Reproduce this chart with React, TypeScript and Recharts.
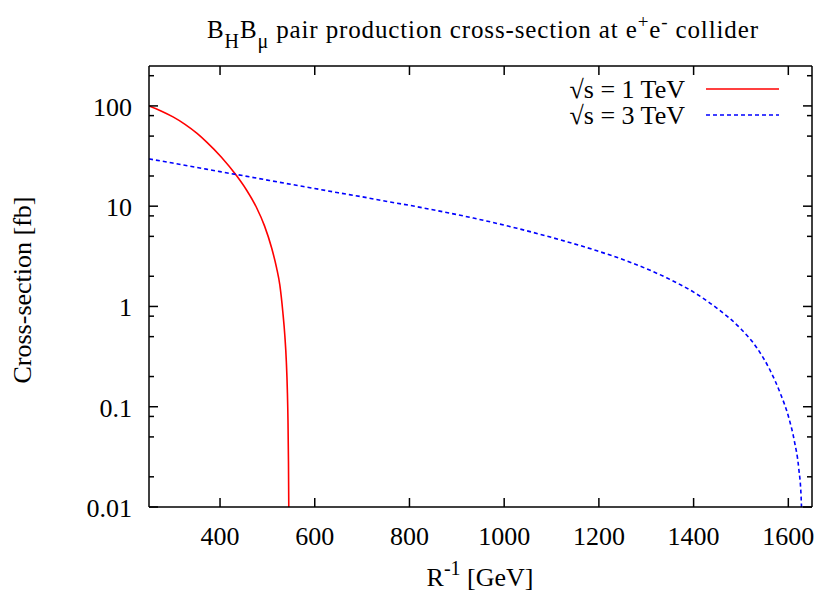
import React from 'react';
import { LineChart, Line, XAxis, YAxis, Legend } from 'recharts';

// sqrt(s) = 1 TeV curve: R^-1 [GeV] vs cross-section [fb]
const r1TeV = [250, 275.4, 300.7, 326.1, 351.5, 371.3, 403, 434.7, 455.9, 477, 493.9, 508.7, 519.3, 526.3, 532.6, 536.9, 540, 542.1, 543.5, 544.5, 545.3, 545.8];
const sigma1TeV = [100, 89.1, 77.7, 65.5, 53.2, 43.8, 30.8, 20.2, 14.5, 9.7, 6.36, 3.87, 2.44, 1.63, 0.88, 0.507, 0.282, 0.148, 0.072, 0.0287, 0.0081, 0.003];

// sqrt(s) = 3 TeV curve
const r3TeV = [250, 300, 350, 400, 450, 500, 550, 600, 650, 700, 750, 800, 843, 935, 1027, 1118, 1196, 1273, 1344, 1400, 1449, 1499, 1534, 1562, 1583, 1601, 1613, 1622, 1627, 1628.8];
const sigma3TeV = [29.6, 26.9, 24.4, 22.1, 20.1, 18.2, 16.5, 15.0, 13.6, 12.4, 11.2, 10.2, 9.33, 7.61, 6.02, 4.62, 3.59, 2.68, 1.92, 1.39, 0.962, 0.603, 0.384, 0.2285, 0.1363, 0.0777, 0.0449, 0.0243, 0.0126, 0.0074];

const xTicks = [400, 600, 800, 1000, 1200, 1400, 1600];
const yMajor = [0.01, 0.1, 1, 10, 100];
const yTicks = [0.01, 0.02, 0.05, 0.08, 0.1, 0.2, 0.5, 0.8, 1, 2, 5, 8, 10, 20, 50, 80, 100, 200];

const data1 = r1TeV.map((x, i) => ({ x, y: sigma1TeV[i] }));
const data3 = r3TeV.map((x, i) => ({ x, y: sigma3TeV[i] }));

const FONT = "'Liberation Serif', 'DejaVu Serif', serif";
const AXIS = { stroke: '#000', strokeWidth: 1.5 };

const LeftTick = (props: any) => {
  const { x, y, payload } = props;
  const major = yMajor.includes(payload.value);
  return (
    <g>
      <line x1={x} x2={x + (major ? 9 : 5)} y1={y} y2={y} stroke="#000" strokeWidth={1.5} />
      {major && (
        <text x={x - 17} y={y + 10} textAnchor="end" fontSize={26} fontFamily={FONT} fill="#000">
          {String(payload.value)}
        </text>
      )}
    </g>
  );
};

const RightTick = (props: any) => {
  const { x, y, payload } = props;
  const major = yMajor.includes(payload.value);
  return <line x1={x} x2={x - (major ? 9 : 5)} y1={y} y2={y} stroke="#000" strokeWidth={1.5} />;
};

const BottomTick = (props: any) => {
  const { x, y, payload } = props;
  return (
    <g>
      <line x1={x} x2={x} y1={y} y2={y - 9} stroke="#000" strokeWidth={1.5} />
      <text x={x} y={y + 37.5} textAnchor="middle" fontSize={26} fontFamily={FONT} fill="#000">
        {payload.value}
      </text>
    </g>
  );
};

const TopTick = (props: any) => {
  const { x, y } = props;
  return <line x1={x} x2={x} y1={y} y2={y + 9} stroke="#000" strokeWidth={1.5} />;
};

const legendRows = [
  { label: '√s = 1 TeV', color: '#ff0000', dash: undefined as string | undefined, y: 89 },
  { label: '√s = 3 TeV', color: '#0000ff', dash: '4 3', y: 115 },
];

const renderLegend = () => (
  <svg width={819} height={130} style={{ display: 'block' }}>
    {legendRows.map((r) => (
      <g key={r.label}>
        <text x={685} y={r.y + 9} textAnchor="end" fontSize={26} fontFamily={FONT} fill="#000">
          {r.label}
        </text>
        <line x1={706} x2={779} y1={r.y} y2={r.y} stroke={r.color} strokeWidth={1.5} strokeDasharray={r.dash} />
      </g>
    ))}
  </svg>
);

export default function App() {
  return (
    <div style={{ position: 'absolute', left: 0, top: 0, width: 819, height: 590, background: '#fff' }}>
      <LineChart width={819} height={590} margin={{ top: 60, right: 0, bottom: 43, left: 89 }}>
        <XAxis
          dataKey="x"
          type="number"
          domain={[250, 1650]}
          ticks={xTicks}
          allowDataOverflow
          interval={0}
          height={40}
          tickSize={0}
          tickMargin={0}
          axisLine={AXIS}
          tickLine={false}
          tick={(p: any) => <BottomTick {...p} />}
        />
        <XAxis
          xAxisId="top"
          orientation="top"
          dataKey="x"
          type="number"
          domain={[250, 1650]}
          ticks={xTicks}
          allowDataOverflow
          interval={0}
          height={6}
          tickSize={0}
          tickMargin={0}
          axisLine={AXIS}
          tickLine={false}
          tick={(p: any) => <TopTick {...p} />}
        />
        <YAxis
          dataKey="y"
          scale="log"
          domain={[0.01, 250]}
          ticks={yTicks}
          allowDataOverflow
          interval={0}
          width={60}
          tickSize={0}
          tickMargin={0}
          axisLine={AXIS}
          tickLine={false}
          tick={(p: any) => <LeftTick {...p} />}
        />
        <YAxis
          yAxisId="right"
          orientation="right"
          scale="log"
          domain={[0.01, 250]}
          ticks={yTicks}
          allowDataOverflow
          interval={0}
          width={7}
          tickSize={0}
          tickMargin={0}
          axisLine={AXIS}
          tickLine={false}
          tick={(p: any) => <RightTick {...p} />}
        />
        <Legend
          layout="vertical"
          align="center"
          verticalAlign="middle"
          wrapperStyle={{ left: 0, top: 0, width: 819, height: 130 }}
          content={renderLegend}
        />
        <Line
          data={data1}
          dataKey="y"
          name="√s = 1 TeV"
          type="monotone"
          stroke="#ff0000"
          strokeWidth={1.6}
          dot={false}
          activeDot={false}
          isAnimationActive={false}
        />
        <Line
          data={data3}
          dataKey="y"
          name="√s = 3 TeV"
          type="monotone"
          stroke="#0000ff"
          strokeWidth={1.6}
          strokeDasharray="4 3"
          dot={false}
          activeDot={false}
          isAnimationActive={false}
        />
      </LineChart>
      <svg
        width={819}
        height={590}
        style={{ position: 'absolute', left: 0, top: 0, pointerEvents: 'none' }}
        fontFamily={FONT}
        fill="#000"
      >
        <text x={207} y={38} fontSize={25} textLength={551} lengthAdjust="spacing">
          B<tspan dy={10} fontSize={20}>H</tspan>
          <tspan dy={-10}>B</tspan>
          <tspan dy={10} fontSize={20}>μ</tspan>
          <tspan dy={-10}> pair production cross-section at e</tspan>
          <tspan dy={-10} fontSize={19}>+</tspan>
          <tspan dy={10}>e</tspan>
          <tspan dy={-10} fontSize={19}>-</tspan>
          <tspan dy={10}> collider</tspan>
        </text>
        <text x={480} y={586} textAnchor="middle" fontSize={26}>
          R<tspan dy={-11} fontSize={20}>-1</tspan>
          <tspan dy={11}> [GeV]</tspan>
        </text>
        <text x={31} y={290} textAnchor="middle" fontSize={26} transform="rotate(-90 31 290)">
          Cross-section [fb]
        </text>
      </svg>
    </div>
  );
}
